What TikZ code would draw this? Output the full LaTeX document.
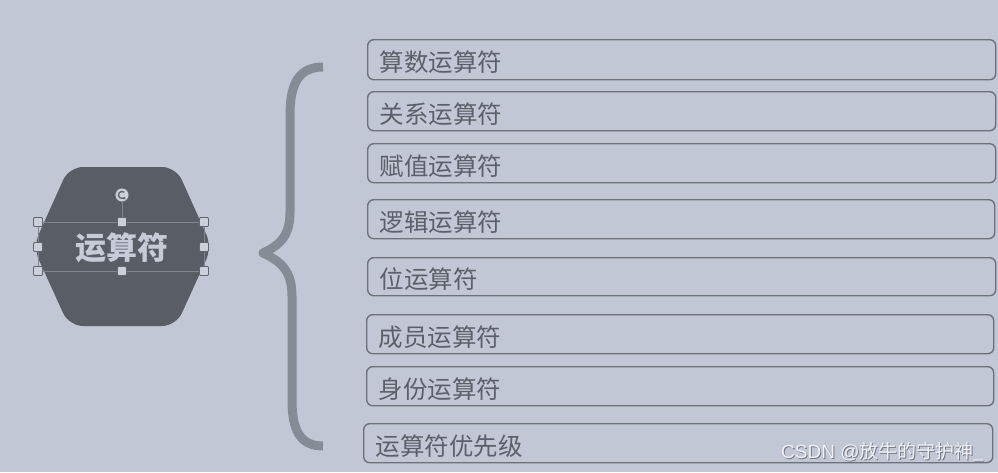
\documentclass[tikz,border=0pt]{standalone}
\usepackage{fontspec}
\newfontfamily\cjk{Noto Sans CJK SC}
\newfontfamily\latinsans{Liberation Sans}
\usetikzlibrary{arrows.meta}
\definecolor{bgc}{RGB}{194,199,214}
\definecolor{boxc}{RGB}{108,113,122}
\definecolor{txtc}{RGB}{92,96,104}
\definecolor{bracec}{RGB}{134,140,150}
\definecolor{hexc}{RGB}{89,93,101}
\definecolor{hextxt}{RGB}{198,203,216}
\definecolor{handlefill}{RGB}{204,208,218}
\definecolor{handledraw}{RGB}{98,102,110}
\definecolor{selc}{RGB}{128,133,143}
\tikzset{
  opbox/.style={draw=boxc, line width=1.4pt, rounded corners=6pt, anchor=north west,
    inner xsep=12pt, inner ysep=0pt, font=\cjk\fontsize{24.5}{25}\selectfont,
    text=txtc, align=left, text height=26pt, text depth=2pt},
  handle/.style={draw=handledraw, fill=handlefill, line width=0.8pt, minimum size=9pt,
    inner sep=0pt, rounded corners=1pt},
  bracestyle/.style={draw=bracec, line width=9pt, line join=round},
}
\begin{document}
\begin{tikzpicture}[x=1pt,y=-1pt]
\useasboundingbox (0,0) rectangle (998,472);
\fill[bgc] (0,0) rectangle (998,472);

% hexagon
\fill[hexc, rounded corners=14pt] (69,167) -- (176,167) -- (212,247) -- (176,326) -- (69,326) -- (33,247) -- cycle;
% selection frame
\draw[selc, line width=0.8pt] (38,222) rectangle (204,271);
\draw[selc, line width=1pt] (122,202) -- (122,218);
\node[font=\cjk\bfseries\fontsize{31}{31}\selectfont, text=hextxt] (center) at (122,248) {运算符};
\foreach \hx/\hy [count=\i] in {38/222,38/247,38/271,122/222,122/271,204/222,204/247,204/271}
  \node[handle] (h\i) at (\hx,\hy) {};
\node[circle, draw=handledraw, fill=handlefill, line width=0.8pt, minimum size=14pt, inner sep=0pt] (rot) at (122,195) {};
\draw[handledraw, line width=1.4pt, -{Stealth[length=2.5pt,width=3.5pt]}] ([shift={(50:3.6pt)}]rot.center) arc[start angle=50, end angle=330, radius=3.6pt];

% brace
\draw[bracestyle] (323,67) .. controls (298,67) and (290,85) .. (290,115) -- (290,212)
  .. controls (290,236) and (280,245) .. (263,253)
  .. controls (280,261) and (292,270) .. (292,296) -- (292,400)
  .. controls (292,430) and (300,446) .. (323,446);

% boxes
\node[opbox, minimum width=628pt, minimum height=40pt, text width=604pt] (b1) at (367,39) {算数运算符};
\node[opbox, minimum width=628pt, minimum height=39pt, text width=604pt] (b2) at (367,91) {关系运算符};
\node[opbox, minimum width=628pt, minimum height=39pt, text width=604pt] (b3) at (367,143) {赋值运算符};
\node[opbox, minimum width=627pt, minimum height=39pt, text width=603pt] (b4) at (367,199) {逻辑运算符};
\node[opbox, minimum width=628pt, minimum height=38pt, text width=604pt] (b5) at (367,257) {位运算符};
\node[opbox, minimum width=627pt, minimum height=39pt, text width=603pt] (b6) at (366,314) {成员运算符};
\node[opbox, minimum width=627pt, minimum height=39pt, text width=603pt] (b7) at (366,366) {身份运算符};
\node[opbox, minimum width=629pt, minimum height=39pt, text width=605pt] (b8) at (363,423) {运算符优先级};

% watermark
\node[anchor=west, inner sep=0pt, text={rgb,255:red,118;green,122;blue,130}] (wmshadow) at (782,453) {\latinsans\fontsize{19}{19}\selectfont CSDN @\cjk 放牛的守护神\_};
\node[anchor=west, inner sep=0pt, text={rgb,255:red,238;green,240;blue,245}] (wm) at (781,452) {\latinsans\fontsize{19}{19}\selectfont CSDN @\cjk 放牛的守护神\_};
\end{tikzpicture}
\end{document}
